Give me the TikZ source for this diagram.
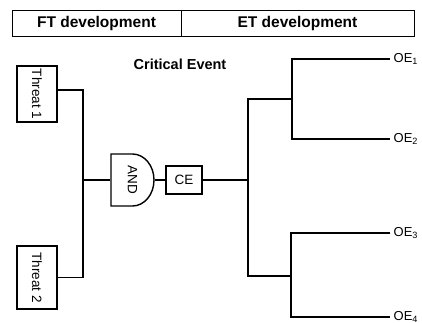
\documentclass[tikz,border=0pt]{standalone}
\usepackage{fontspec}
\setmainfont{Liberation Sans}
\usetikzlibrary{positioning}

\begin{document}
\begin{tikzpicture}[x=1pt,y=-1pt,line width=1.4pt,
    head/.style={draw,line width=0.9pt,minimum height=26,inner sep=0pt,font=\fontsize{15.5}{18}\bfseries},
    threat/.style={draw,line width=2pt,rotate=-90,minimum height=40,inner sep=0pt,font=\fontsize{13.5}{16}\selectfont},
    outcome/.style={anchor=west,inner sep=3pt,font=\fontsize{13}{15}\selectfont}]
      \useasboundingbox (0,0) rectangle (422,322);
      % header
      \node[head,minimum width=169] (ft) at (96.5,23) {FT development};
      \node[head,minimum width=233] (et) at (297.5,23) {ET development};
      \node[font=\fontsize{14.5}{17}\bfseries] (crit) at (180,64) {Critical Event};

      % fault tree side
      \node[threat,minimum width=56] (threat1) at (37,94) {Threat 1};
      \node[threat,minimum width=63] (threat2) at (37,277.5) {Threat 2};
      \node[rotate=-90,minimum width=52,minimum height=43,inner sep=0pt,font=\fontsize{13.5}{16}\selectfont] (andgate) at (132.5,180) {AND};
      \draw ([shift={(-21.5pt,26pt)}]andgate.center) -- ++(21.5pt,0pt)
            arc[start angle=90,end angle=-90,x radius=21.5pt,y radius=26pt]
            -- ++(-21.5pt,0pt) -- cycle;
      \node[draw,minimum width=36,minimum height=28,inner sep=0pt,font=\fontsize{13.5}{16}\selectfont] (ce) at (184,180) {CE};
      \coordinate (ftbus) at (83,180);
      \draw ([yshift=4pt]threat1.north) -| (ftbus) -- (andgate.south);
      \draw (threat2.north) -| (ftbus);
      \draw (andgate.north) -- (ce);

      % event tree side
      \coordinate (etbus) at (248,180);
      \coordinate (split1) at (292,99);
      \coordinate (split2) at (291,276);
      \foreach \i/\y in {1/59,2/139,3/233,4/317} {
        \node[outcome] (oe\i) at (390,\y) {OE\textsubscript{\i}};
      }
      \draw (ce) -- (etbus);
      \draw (split1) -| (etbus) |- (split2);
      \draw (oe1.west) -| (split1) |- (oe2.west);
      \draw (oe3.west) -| (split2) |- (oe4.west);
    \end{tikzpicture}
\end{document}
